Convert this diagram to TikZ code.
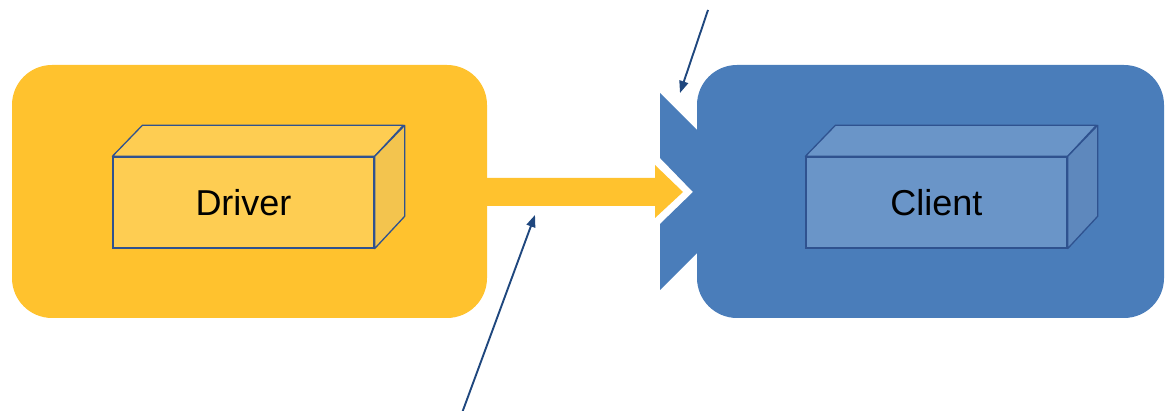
\documentclass[tikz,border=0pt]{standalone}
\usepackage{fontspec}
\setmainfont{Liberation Sans}
\usetikzlibrary{arrows.meta}
\definecolor{drvyellow}{HTML}{FFC22E}
\definecolor{drvface}{HTML}{FECD52}
\definecolor{drvside}{HTML}{F3C44E}
\definecolor{clblue}{HTML}{4A7DBA}
\definecolor{clface}{HTML}{6A95C8}
\definecolor{clside}{HTML}{5E88BD}
\definecolor{edge}{HTML}{2F528F}
\definecolor{pointer}{HTML}{1F477E}
\tikzset{
  panel/.style={rounded corners=40pt},
  front/.style={draw=edge, line width=1.3pt, minimum width=261pt, minimum height=91pt,
    inner sep=0pt, font=\fontsize{36}{43}\selectfont},
  facet/.style={draw=edge, line width=1.3pt, line join=round},
  callout/.style={draw=pointer, line width=1.9pt, -{Triangle[length=12pt,width=9pt]}}
}
\begin{document}
\begin{tikzpicture}[x=1pt,y=1pt]
\useasboundingbox (0,0) rectangle (1167,411);
% side panels
\fill[drvyellow, panel] (12,93) rectangle (487,346);
\fill[clblue] (660,318) -- (697,281) -- (697,158) -- (660,121) -- (660,187)
  -- (693,219) -- (660,253) -- cycle;
\fill[clblue, panel] (697,93) rectangle (1164,346);
% connecting arrow
\fill[drvyellow] (486,205) -- (655,205) -- (655,193) -- (683,219) -- (655,246)
  -- (655,233) -- (486,233) -- cycle;
% Driver cube
\node[front, fill=drvface] (driver) at (243.5,208.5) {Driver};
\filldraw[facet, fill=drvface] (driver.north west) -- ++(30pt,31pt) -- ++(261pt,0pt)
  -- (driver.north east) -- cycle;
\filldraw[facet, fill=drvside] (driver.north east) -- ++(30pt,31pt) -- ++(0pt,-91pt)
  -- (driver.south east) -- cycle;
% Client cube
\node[front, fill=clface] (client) at (936.5,208.5) {Client};
\filldraw[facet, fill=clface] (client.north west) -- ++(30pt,31pt) -- ++(261pt,0pt)
  -- (client.north east) -- cycle;
\filldraw[facet, fill=clside] (client.north east) -- ++(30pt,31pt) -- ++(0pt,-91pt)
  -- (client.south east) -- cycle;
% callout pointers
\coordinate (topfrom) at (708,401);
\coordinate (topto) at (680,318);
\coordinate (lowfrom) at (462,-2);
\coordinate (lowto) at (535,196);
\draw[callout] (topfrom) -- (topto);
\draw[callout] (lowfrom) -- (lowto);
\end{tikzpicture}
\end{document}
